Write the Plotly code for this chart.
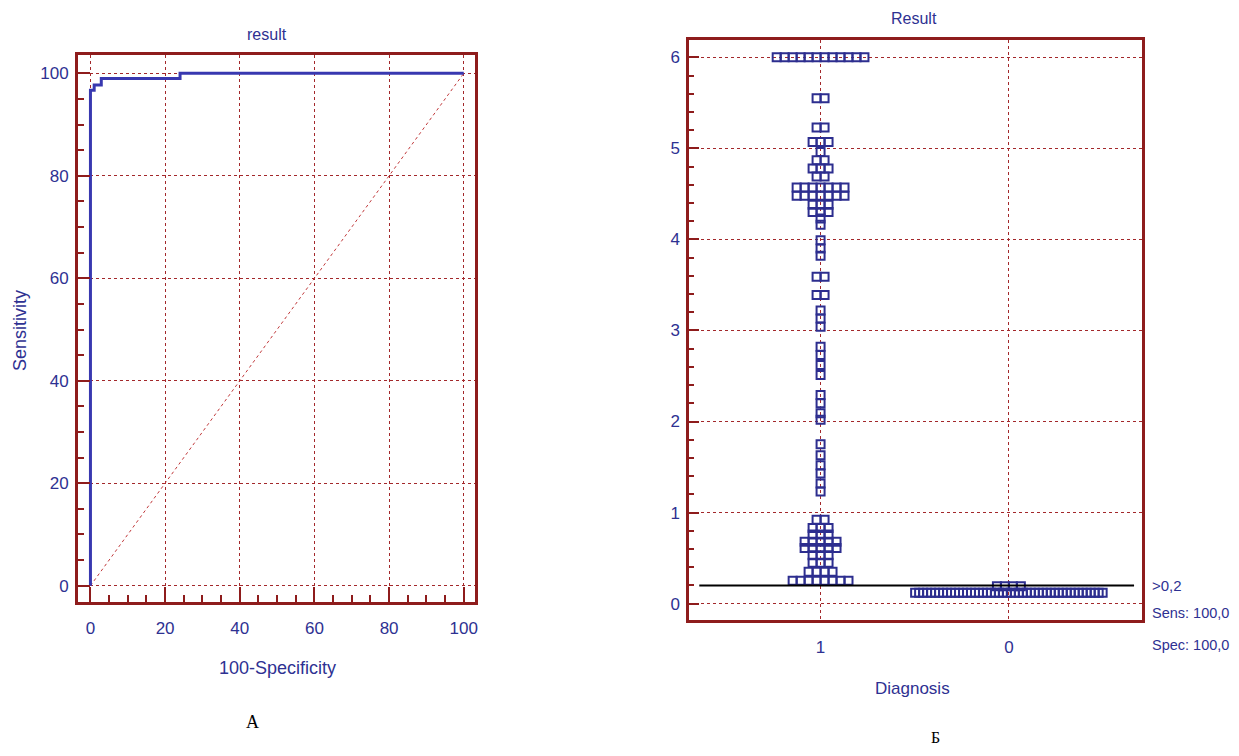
import plotly.graph_objects as go

# ---------------- data ----------------
roc_fpr = [0, 1, 2.9, 24, 100]          # 100-Specificity
roc_sens = [0, 96.7, 97.7, 99, 100]     # Sensitivity
diag_x = [0, 100]
diag_y = [0, 100]
roc_ticks = [0, 20, 40, 60, 80, 100]

diagnosis_labels = ["1", "0"]
# group "1": result levels and how many cases at each level
g1_levels = [6.0, 5.55, 5.23, 5.07, 4.96, 4.87, 4.78, 4.69, 4.57, 4.48, 4.38, 4.30, 4.23, 4.16,
             3.99, 3.90, 3.82, 3.59, 3.39, 3.22, 3.13, 3.04, 2.82, 2.73, 2.62, 2.51,
             2.29, 2.20, 2.09, 2.02, 1.75, 1.63, 1.52, 1.43, 1.32, 1.23,
             0.92, 0.83, 0.76, 0.68, 0.61, 0.53, 0.45, 0.35, 0.25]
g1_counts = [12, 2, 2, 3, 1, 2, 3, 2, 7, 7, 3, 3, 1, 1,
             1, 1, 1, 2, 2, 1, 1, 1, 1, 1, 1, 1,
             1, 1, 1, 1, 1, 1, 1, 1, 1, 1,
             2, 3, 3, 5, 5, 3, 3, 4, 8]
# group "0"
g0_levels = [0.19, 0.12]
g0_counts = [4, 48]

cutoff = 0.2
cutoff_texts = [">0,2", "Sens: 100,0", "Spec: 100,0"]
result_ticks = [0, 1, 2, 3, 4, 5, 6]

# ---------------- style ----------------
OFF = 8                               # default page body margin
W, H = 1239 - 2 * OFF, 756 - 2 * OFF  # figure fits the window without scrollbars
FRAME = "#8E1C1C"
GRID = "#A3282B"
TXT = "#2E3192"
MARK = "#2D2E8F"
ROC = "#3838B0"
FONT = "Liberation Sans, Arial, sans-serif"

def px_x(p):
    return (p - OFF) / W

def px_y(p):
    return 1 - (p - OFF) / H

# right panel geometry (pixels) for dot spreading
R_LEFT, R_RIGHT = 691, 1145
R_RANGE = [-0.697, 1.708]
px_per_unit = (R_RIGHT - R_LEFT) / (R_RANGE[1] - R_RANGE[0])

def spread(levels, counts, center):
    xs, ys = [], []
    for v, n in zip(levels, counts):
        step = min(8.0, 192.0 / n) / px_per_unit
        for i in range(n):
            xs.append(center + (i - (n - 1) / 2) * step)
            ys.append(v)
    return xs, ys

x1, y1 = spread(g1_levels, g1_counts, 0)
x0, y0 = spread(g0_levels, g0_counts, 1)

fig = go.Figure()

# ROC panel
fig.add_trace(go.Scatter(x=diag_x, y=diag_y, mode="lines",
                         line=dict(color="#C0393B", width=1, dash="dot"),
                         xaxis="x", yaxis="y", hoverinfo="skip", showlegend=False))
fig.add_trace(go.Scatter(x=roc_fpr, y=roc_sens, mode="lines", line_shape="vh",
                         line=dict(color=ROC, width=3),
                         xaxis="x", yaxis="y", showlegend=False))

# dot plot panel
fig.add_trace(go.Scatter(x=x1 + x0, y=y1 + y0, mode="markers",
                         marker=dict(symbol="square-open", size=8, color=MARK,
                                     line=dict(width=2, color=MARK)),
                         xaxis="x2", yaxis="y2", showlegend=False))

tickfont = dict(family=FONT, size=17, color=TXT)
common = dict(showline=True, linecolor=FRAME, linewidth=3, mirror=True,
              showgrid=True, gridcolor=GRID, griddash="dot", gridwidth=1,
              zeroline=False, tickfont=tickfont, tickcolor=FRAME, tickwidth=2)

fig.update_layout(
    width=W, height=H,
    margin=dict(l=0, r=0, t=0, b=0),
    paper_bgcolor="white", plot_bgcolor="white",
    showlegend=False,
    xaxis=dict(domain=[px_x(78.3), px_x(476.5)], range=[-3.3, 103.1],
               tickmode="array", tickvals=roc_ticks, ticks="inside", ticklen=15,
               minor=dict(tick0=0, dtick=5, ticks="inside", ticklen=7, tickwidth=2,
                          tickcolor=FRAME, showgrid=False),
               ticklabelstandoff=9, anchor="y", **common),
    yaxis=dict(domain=[px_y(601.7), px_y(55)], range=[-3.12, 103.57],
               tickmode="array", tickvals=roc_ticks, ticks="inside", ticklen=12,
               minor=dict(tick0=0, dtick=5, ticks="inside", ticklen=6, tickwidth=2,
                          tickcolor=FRAME, showgrid=False),
               ticklabelstandoff=3, anchor="x", **common),
    xaxis2=dict(domain=[px_x(R_LEFT), px_x(R_RIGHT)], range=R_RANGE,
                tickmode="array", tickvals=[0, 1], ticktext=diagnosis_labels,
                ticks="", ticklabelstandoff=10, anchor="y2", **common),
    yaxis2=dict(domain=[px_y(620), px_y(40)], range=[-0.18, 6.19],
                tickmode="array", tickvals=result_ticks, ticks="inside", ticklen=10,
                minor=dict(tick0=0, dtick=0.2, ticks="inside", ticklen=5, tickwidth=2,
                           tickcolor=FRAME, showgrid=False),
                ticklabelstandoff=3, anchor="x2", **common),
)

fig.add_shape(type="line", xref="x2 domain", yref="y2", x0=0.022, x1=0.982,
              y0=cutoff, y1=cutoff, line=dict(color="black", width=2))

def ann(text, x, y, size=18, color=TXT, family=FONT, angle=0, xanchor="center",
        yanchor="middle"):
    fig.add_annotation(text=text, x=px_x(x), y=px_y(y), xref="paper", yref="paper",
                       showarrow=False, textangle=angle, xanchor=xanchor, yanchor=yanchor,
                       font=dict(family=family, size=size, color=color))

ann("result", 268, 35, size=16)
ann("Result", 916, 19, size=16)
ann("Sensitivity", 20, 330, size=18, angle=-90)
ann("100-Specificity", 278, 668, size=18)
ann("Diagnosis", 915, 688, size=17)
ann(cutoff_texts[0], 1153, 585, size=15, xanchor="left")
ann(cutoff_texts[1], 1153, 613, size=14.5, xanchor="left")
ann(cutoff_texts[2], 1153, 645, size=14.5, xanchor="left")
ann("А", 253, 722, size=18, color="black", family="Liberation Serif, Times New Roman, serif")
ann("Б", 938, 748, size=16, color="black", family="Liberation Serif, Times New Roman, serif",
    yanchor="bottom")

fig.write_html("out.html")
